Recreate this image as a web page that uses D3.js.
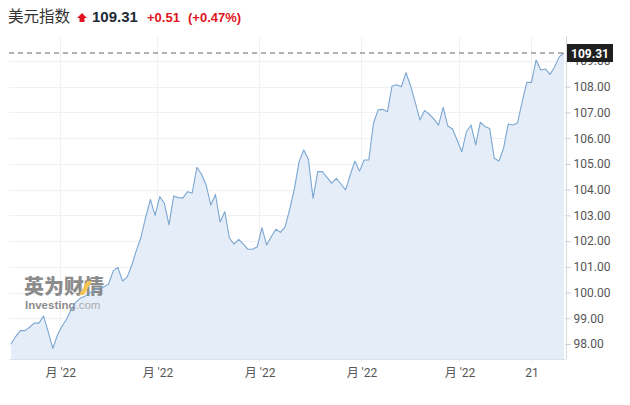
<!DOCTYPE html>
<html>
<head>
<meta charset="utf-8">
<script src="https://cdn.jsdelivr.net/npm/d3@7"></script>
<style>
  html, body { margin: 0; padding: 0; background: #fff; }
  svg { display: block; }
</style>
</head>
<body>
<svg id="chart" width="630" height="405"></svg>
<script>
// ---- data ----
const title = "美元指数";
const lastPrice = "109.31";
const change = "+0.51";
const changePct = "(+0.47%)";

const values = [
  98.00, 98.29, 98.52, 98.52, 98.65, 98.81, 98.81, 99.09, 98.48, 97.83,
  98.35, 98.70, 98.97, 99.36, 99.63, 99.79, 99.87, 99.98, 100.10, 100.18,
  100.22, 100.33, 100.84, 100.98, 100.45, 100.60, 101.07, 101.65, 102.17, 102.94,
  103.62, 103.00, 103.73, 103.47, 102.63, 103.75, 103.69, 103.68, 103.92, 103.87,
  104.87, 104.60, 104.18, 103.40, 103.81, 102.74, 103.14, 102.12, 101.88, 102.07,
  101.88, 101.68, 101.68, 101.78, 102.52, 101.85, 102.17, 102.46, 102.34, 102.56,
  103.25, 104.05, 105.09, 105.54, 105.18, 103.66, 104.70, 104.70, 104.48, 104.25,
  104.44, 104.22, 103.99, 104.57, 105.11, 104.72, 105.15, 105.15, 106.58, 107.10,
  107.12, 107.03, 108.03, 108.08, 108.00, 108.55, 108.03, 107.38, 106.71, 107.08,
  106.93, 106.75, 106.51, 107.20, 106.47, 106.36, 105.93, 105.47, 106.25, 106.51,
  105.74, 106.62, 106.45, 106.38, 105.22, 105.11, 105.61, 106.55, 106.51, 106.59,
  107.42, 108.17, 108.17, 109.04, 108.65, 108.69, 108.48, 108.78, 109.17, 109.31
];
const lastValue = 109.31;

const yTicks = [98, 99, 100, 101, 102, 103, 104, 105, 106, 107, 108, 109];
const xTickPos = [10.5, 31.4, 53.4, 75.3, 96.4, 111.9];
const xTickLabels = ["月 '22", "月 '22", "月 '22", "月 '22", "月 '22", "21"];

// ---- layout ----
const svg = d3.select("#chart");
const plotLeft = 9, plotRight = 566, plotTop = 36, plotBottom = 359;

const x = d3.scaleLinear().domain([0, values.length - 1]).range([11, 564]);
const y = d3.scaleLinear().domain([98, 109]).range([344, 61]);

// gridlines
const grid = svg.append("g");
grid.selectAll("line.h").data(yTicks).enter().append("line")
  .attr("x1", plotLeft).attr("x2", plotRight)
  .attr("y1", d => Math.round(y(d)) + 0.5).attr("y2", d => Math.round(y(d)) + 0.5)
  .attr("stroke", "#eef1f5").attr("stroke-width", 1);
grid.selectAll("line.v").data(xTickPos).enter().append("line")
  .attr("x1", d => Math.round(x(d)) + 0.5).attr("x2", d => Math.round(x(d)) + 0.5)
  .attr("y1", plotTop).attr("y2", plotBottom + 4)
  .attr("stroke", "#eef1f5").attr("stroke-width", 1);

// area + line
const area = d3.area().x((d, i) => x(i)).y0(plotBottom).y1(d => y(d));
const line = d3.line().x((d, i) => x(i)).y(d => y(d));

svg.append("path").datum(values).attr("d", area)
  .attr("fill", "#e3edf7").attr("fill-opacity", 0.92);

// watermark
const wm = svg.append("g").attr("opacity", 0.8);
wm.append("text").attr("x", 24).attr("y", 294)
  .attr("font-family", "'Noto Sans CJK SC', sans-serif")
  .attr("font-weight", "900").attr("font-size", 20)
  .attr("fill", "#707070").text("英为财情");
wm.append("path").attr("d", "M 79 295 L 87 281 L 92 281 L 84 295 Z")
  .attr("fill", "#f2b630");
const inv = wm.append("text").attr("x", 25).attr("y", 309)
  .attr("font-family", "'Liberation Sans', Arial, sans-serif")
  .attr("font-size", 11.5).attr("fill", "#707070");
inv.append("tspan").attr("font-weight", "bold").text("Investing");
inv.append("tspan").attr("fill", "#9a9a9a").text(".com");

svg.append("path").datum(values).attr("d", line)
  .attr("fill", "none").attr("stroke", "#7ba6d1").attr("stroke-width", 1.1)
  .attr("stroke-linejoin", "round");

// bottom axis line
svg.append("line").attr("x1", plotLeft).attr("x2", plotRight)
  .attr("y1", plotBottom + 0.5).attr("y2", plotBottom + 0.5)
  .attr("stroke", "#dde3ea");

// right axis
const yAxis = d3.axisRight(y).tickValues(yTicks).tickSize(4).tickPadding(3)
  .tickFormat(d3.format(".2f"));
const gy = svg.append("g").attr("transform", `translate(${plotRight + 0.5},0)`).call(yAxis);
gy.select(".domain").attr("d", `M0,${plotTop}V${plotBottom}`).attr("stroke", "#d5d9de");
gy.selectAll(".tick line").attr("stroke", "#c8cdd3");
gy.selectAll(".tick text").attr("font-family", "Roboto, sans-serif")
  .attr("font-size", 12).attr("fill", "#555");

// x axis labels
const xAxis = d3.axisBottom(x).tickValues(xTickPos).tickSize(0).tickPadding(9)
  .tickFormat((d, i) => xTickLabels[i]);
const gx = svg.append("g").attr("transform", `translate(0.5,${plotBottom})`).call(xAxis);
gx.select(".domain").remove();
gx.selectAll(".tick text").attr("font-family", "Roboto, 'Noto Sans CJK SC', sans-serif")
  .attr("font-size", 12).attr("fill", "#555");

// last price dashed line and label
svg.append("line").attr("x1", plotLeft).attr("x2", plotRight)
  .attr("y1", y(lastValue)).attr("y2", y(lastValue))
  .attr("stroke", "#999").attr("stroke-width", 1.6).attr("stroke-dasharray", "5,4");
svg.append("rect").attr("x", plotRight + 1).attr("y", y(lastValue) - 9)
  .attr("width", 46).attr("height", 18).attr("fill", "#1f1f1f");
svg.append("text").attr("x", plotRight + 24).attr("y", y(lastValue) + 4.5)
  .attr("text-anchor", "middle").attr("font-family", "Roboto, sans-serif")
  .attr("font-weight", "bold").attr("font-size", 12).attr("fill", "#fff")
  .text(d3.format(".2f")(lastValue));

// header
svg.append("text").attr("x", 8).attr("y", 22)
  .attr("font-family", "'Noto Sans CJK SC', sans-serif").attr("font-size", 15.5)
  .attr("fill", "#333").text(title);
svg.append("path").attr("d", "M 82 13 L 87 18 L 84.5 18 L 84.5 22 L 79.5 22 L 79.5 18 L 77 18 Z")
  .attr("fill", "#e0131e");
svg.append("text").attr("x", 92).attr("y", 22)
  .attr("font-family", "'Liberation Sans', Arial, sans-serif").attr("font-weight", "bold")
  .attr("font-size", 15).attr("fill", "#1e2a35").text(lastPrice);
svg.append("text").attr("x", 147).attr("y", 22)
  .attr("font-family", "'Liberation Sans', Arial, sans-serif").attr("font-weight", "bold")
  .attr("font-size", 13).attr("fill", "#e0131e").text(change);
svg.append("text").attr("x", 188).attr("y", 22)
  .attr("font-family", "'Liberation Sans', Arial, sans-serif").attr("font-weight", "bold")
  .attr("font-size", 13).attr("fill", "#e0131e").text(changePct);
</script>
</body>
</html>
